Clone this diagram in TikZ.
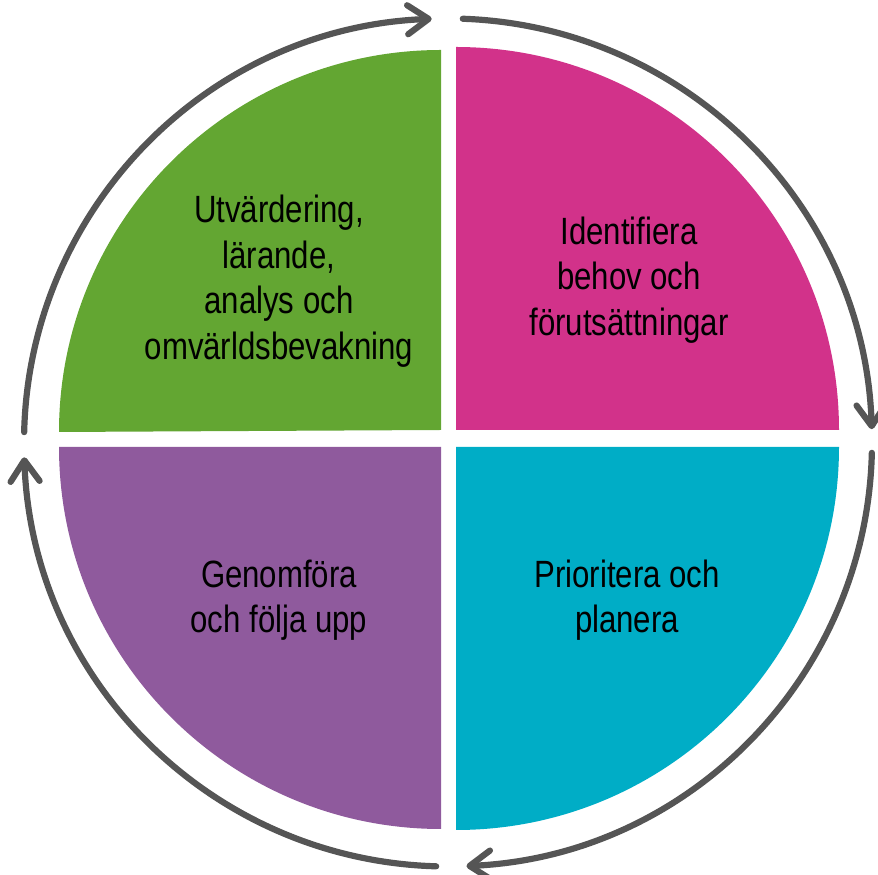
\documentclass[tikz,border=0pt]{standalone}
\usepackage{fontspec}
\setmainfont{Liberation Sans}[FakeStretch=0.82]
\usetikzlibrary{arrows.meta,calc}
\definecolor{qgreen}{RGB}{99,166,50}
\definecolor{qpink}{RGB}{210,50,138}
\definecolor{qcyan}{RGB}{0,173,198}
\definecolor{qpurple}{RGB}{143,90,157}
\definecolor{ringgray}{RGB}{85,85,85}
\begin{document}
\begin{tikzpicture}[x=1pt,y=1pt,
  ring/.style={draw=ringgray,line width=6.2pt,line cap=round,
    -{Straight Barb[length=21pt,width=29pt,round]}},
  qtext/.style={align=center,text=black,font=\fontsize{38}{45.5}\selectfont}]
\useasboundingbox (0,0) rectangle (878,875);
% quadrants
\fill[qgreen]  (441,445) -- (441,825) arc[start angle=90,end angle=180,radius=382] -- cycle;
\fill[qpink]   (456,445) -- (839,445) arc[start angle=0,end angle=90,radius=383] -- cycle;
\fill[qcyan]   (456,428) -- (839,428) arc[start angle=0,end angle=-90,radius=383] -- cycle;
\fill[qpurple] (441,428) -- (59,428) arc[start angle=180,end angle=270,radius=382] -- cycle;
% texts
\node[qtext] (eval) at (279,594) {Utvärdering,\\lärande,\\analys och\\omvärldsbevakning};
\node[qtext] (ident) at (629,595) {Identifiera\\behov och\\förutsättningar};
\node[qtext] (genom) at (279,275) {Genomföra\\och följa upp};
\node[qtext] (prio) at (627,275) {Prioritera och\\planera};
% ring arrows
\coordinate (C) at (448,432.5);
\coordinate (s1) at ($(C)+(178.6:424)$);
\coordinate (s2) at ($(C)+(88:424)$);
\coordinate (s3) at ($(C)+(-1.4:424)$);
\coordinate (s4) at ($(C)+(-91.6:424)$);
\draw[ring] (s1) arc[start angle=178.6,end angle=92.2,radius=424];
\draw[ring] (s2) arc[start angle=88,end angle=1.8,radius=424];
\draw[ring] (s3) arc[start angle=-1.4,end angle=-87.5,radius=424];
\draw[ring] (s4) arc[start angle=-91.6,end angle=-178,radius=424];
\end{tikzpicture}
\end{document}
